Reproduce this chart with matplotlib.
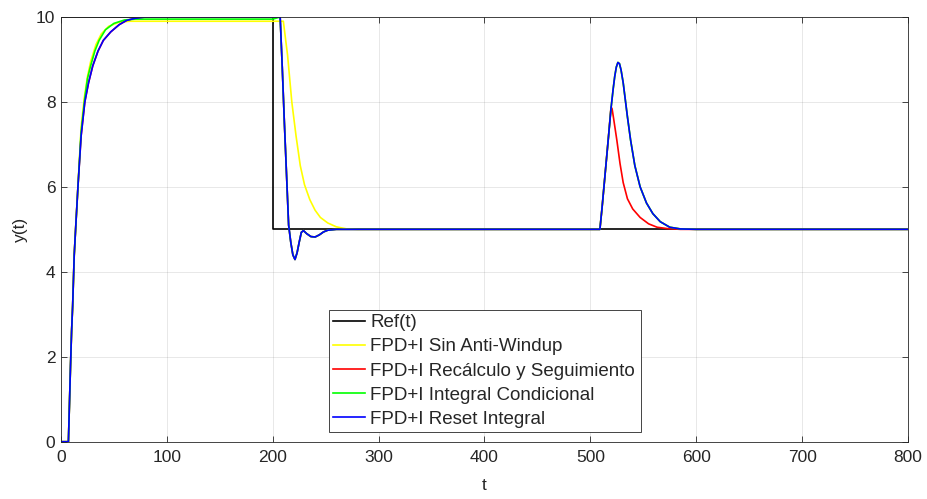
import numpy as np
import matplotlib
matplotlib.use('Agg')
import matplotlib.pyplot as plt

plt.rcParams['font.family'] = ['Liberation Sans', 'DejaVu Sans']

# referencia
t_ref = [0, 200, 200, 800]
y_ref = [10, 10, 5, 5]

# FPD+I Reset Integral (azul)
t_blue = [0, 7, 8, 9, 10, 11, 12.5, 14, 16, 19, 22.5, 26, 30, 35, 40, 47, 55, 62, 70, 80,
          207, 209, 211, 213, 215, 217, 219, 221, 223, 225, 227, 229, 232, 236, 240, 244, 248, 252, 260,
          509, 511, 513, 515, 517, 519.5, 521.5, 523, 524.5, 526, 527.5, 529, 531, 533, 535, 538, 542, 547,
          553, 559, 566, 575, 585, 600, 800]
y_blue = [0, 0, 0.9, 1.8, 2.6, 3.2, 4.4, 5.1, 6.0, 7.2, 8.0, 8.45, 8.85, 9.2, 9.45, 9.65, 9.82, 9.92, 9.97, 10,
          10, 8.8, 7.5, 6.3, 5.1, 4.7, 4.4, 4.29, 4.45, 4.7, 4.93, 4.97, 4.9, 4.83, 4.82, 4.87, 4.94, 4.98, 5.0,
          5.0, 5.5, 6.05, 6.6, 7.15, 7.85, 8.3, 8.6, 8.82, 8.93, 8.9, 8.75, 8.45, 8.05, 7.65, 7.1, 6.5, 6.0,
          5.62, 5.37, 5.18, 5.05, 5.01, 5.0, 5.0]

# FPD+I Recalculo y Seguimiento (rojo) - pico distinto
t_red_peak = [519.5, 520.5, 522, 525, 528, 531, 535, 540, 547, 555, 563, 572, 585, 800]
y_red_peak = [7.88, 7.84, 7.6, 7.1, 6.55, 6.1, 5.72, 5.48, 5.28, 5.13, 5.05, 5.02, 5.0, 5.0]

# FPD+I Integral Condicional (verde) - subida inicial
t_green_rise = [0, 7, 8, 9, 10, 11, 12.5, 14, 16, 19, 22.5, 25, 28, 32, 36, 42, 50, 60, 70, 200]
y_green_rise = [0, 0, 0.9, 1.8, 2.6, 3.2, 4.4, 5.1, 6.0, 7.3, 8.1, 8.55, 8.85, 9.2, 9.45, 9.7, 9.85, 9.93, 9.95, 9.95]

# FPD+I Sin Anti-Windup (amarillo) - hasta t=500, luego igual al azul
t_yel = [0, 7, 8, 9, 10, 11, 12.5, 14, 16, 19, 22, 25, 28, 33, 38, 45, 55, 65,
         210, 214, 218, 222, 226, 230, 235, 240, 245, 252, 260, 270, 280, 500]
y_yel = [0, 0, 0.9, 1.8, 2.6, 3.2, 4.4, 5.1, 6.0, 7.4, 8.1, 8.6, 8.95, 9.35, 9.6, 9.78, 9.88, 9.9,
         9.9, 9.1, 8.0, 7.2, 6.5, 6.05, 5.7, 5.45, 5.28, 5.15, 5.06, 5.01, 5.0, 5.0]

t_blue = np.array(t_blue)
y_blue = np.array(y_blue)
m = t_blue < t_red_peak[0]
t_red = np.concatenate([t_blue[m], t_red_peak])
y_red = np.concatenate([y_blue[m], y_red_peak])
m2 = t_blue > 200
t_green = np.concatenate([t_green_rise, t_blue[m2]])
y_green = np.concatenate([y_green_rise, y_blue[m2]])
m3 = t_blue > 500
t_yel = np.concatenate([t_yel, t_blue[m3]])
y_yel = np.concatenate([y_yel, y_blue[m3]])

fig = plt.figure(figsize=(9.28, 4.99), dpi=100)
fig.set_facecolor('white')
ax = fig.add_axes([61/928, 1-441.7/499, 847/928, 424.7/499])

lw = 1.2
ax.plot(t_ref, y_ref, color='k', lw=lw, label='Ref(t)')
ax.plot(t_yel, y_yel, color='#ffff00', lw=lw, label='FPD+I Sin Anti-Windup')
ax.plot(t_red, y_red, color='#ff0000', lw=lw, label='FPD+I Recálculo y Seguimiento')
ax.plot(t_green, y_green, color='#00ff00', lw=lw, label='FPD+I Integral Condicional')
ax.plot(t_blue, y_blue, color='#0000ff', lw=lw, label='FPD+I Reset Integral')

ax.set_xlim(0, 800)
ax.set_ylim(0, 10)
ax.set_xticks(range(0, 801, 100))
ax.set_yticks(range(0, 11, 2))
ax.grid(True, color='#262626', alpha=0.12, lw=0.6)
ax.tick_params(direction='in', top=True, right=True, labelsize=12.5, colors='#262626',
               length=4, width=0.6)
ax.tick_params(axis='x', pad=6)
ax.tick_params(axis='y', pad=4)
for s in ax.spines.values():
    s.set_color('#262626')
    s.set_linewidth(0.6)
ax.set_xlabel('t', fontsize=12.5, color='#262626', labelpad=9)
ax.set_ylabel('y(t)', fontsize=12.5, color='#262626', labelpad=6)

leg = ax.legend(loc='lower left', bbox_to_anchor=(0.316, 0.022, 0.369, 0.293), mode='expand',
                fontsize=13.5, labelspacing=0.37, handlelength=1.7, handletextpad=0.27,
                borderpad=0.25, borderaxespad=0, fancybox=False, framealpha=1)
leg.get_frame().set_edgecolor('#262626')
leg.get_frame().set_linewidth(0.6)
for txt in leg.get_texts():
    txt.set_color('#262626')

fig.savefig('out.png', dpi=100)
